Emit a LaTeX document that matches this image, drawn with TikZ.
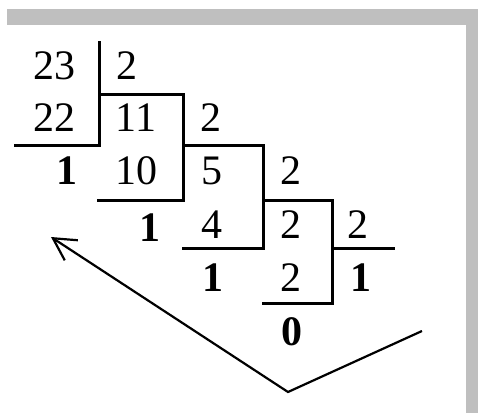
\documentclass[tikz,border=0pt]{standalone}
\usepackage{fontspec}
\setmainfont{Liberation Serif}
\usepackage{tikz}
\usetikzlibrary{arrows.meta}

\tikzset{
  num/.style={inner sep=0pt,font=\fontsize{21}{23}\selectfont},
  rem/.style={num,font=\fontsize{21}{23}\selectfont\bfseries},
  bar/.style={line width=1.5pt},
}

\begin{document}
\begin{tikzpicture}[x=0.5pt,y=-0.5pt]
  \useasboundingbox (0,0) rectangle (478,413);
  \fill[black!25] (7,9) rectangle (478,25);
  \fill[black!25] (466,9) rectangle (478,413);
  \draw[bar] (99,41)--(99,145)--(14,145);
  \draw[bar] (99,94)--(183,94)--(183,200)--(97,200);
  \draw[bar] (183,145)--(263,145)--(263,248)--(182,248);
  \draw[bar] (263,200)--(332,200)--(332,303)--(262,303);
  \draw[bar] (332,248)--(395,248);
  \node[num] (a23) at (54,66) {23};
  \node[num] (d1) at (127,66) {2};
  \node[num] (a22) at (54,118) {22};
  \node[num] (a11) at (136,118) {11};
  \node[num] (d2) at (211,118) {2};
  \node[rem] (r1) at (67,171) {1};
  \node[num] (a10) at (137,171) {10};
  \node[num] (a5) at (212,171) {5};
  \node[num] (d3) at (291,171) {2};
  \node[rem] (r2) at (150,228) {1};
  \node[num] (a4) at (212,225) {4};
  \node[num] (a2) at (291,225) {2};
  \node[num] (d4) at (358,225) {2};
  \node[rem] (r3) at (213,278) {1};
  \node[num] (b2) at (291,278) {2};
  \node[rem] (r5) at (361,278) {1};
  \node[rem] (r4) at (292,332) {0};
  \coordinate (tail) at (422,331);
  \coordinate (turn) at (288,392);
  \coordinate (tip) at (51,237);
  \draw[line width=1.1pt,-{Straight Barb[length=11pt,width=12pt]}] (tail)--(turn)--(tip);
\end{tikzpicture}
\end{document}
